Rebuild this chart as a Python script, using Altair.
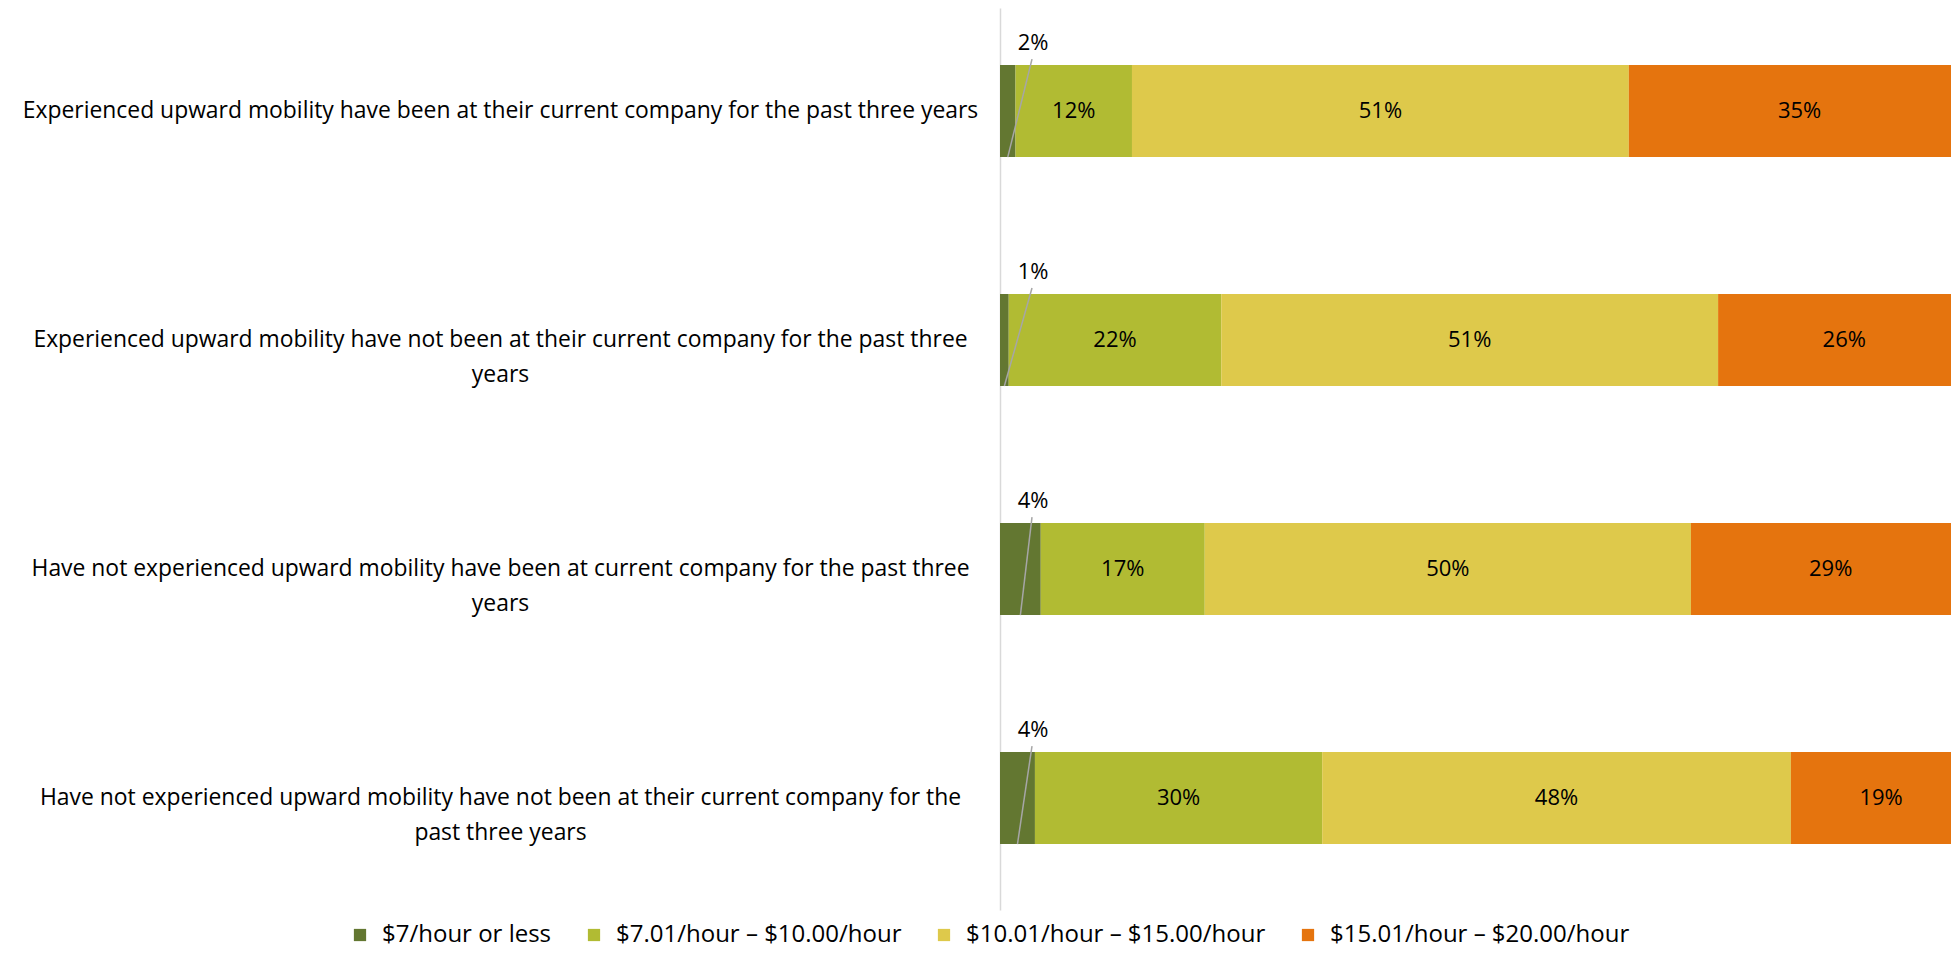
import altair as alt
import pandas as pd

categories = [
    "Experienced upward mobility have been at their current company for the past three years",
    "Experienced upward mobility have not been at their current company for the past three\nyears",
    "Have not experienced upward mobility have been at current company for the past three\nyears",
    "Have not experienced upward mobility have not been at their current company for the\npast three years",
]
brackets = [
    "$7/hour or less",
    "$7.01/hour – $10.00/hour",
    "$10.01/hour – $15.00/hour",
    "$15.01/hour – $20.00/hour",
]
colors = ["#637731", "#B1BB33", "#DEC94B", "#E5740E"]

v_7_or_less = [0.016, 0.009, 0.042, 0.036]
v_7_to_10 = [0.120, 0.219, 0.169, 0.296]
v_10_to_15 = [0.512, 0.512, 0.501, 0.483]
v_15_to_20 = [0.352, 0.260, 0.288, 0.186]

series = [v_7_or_less, v_7_to_10, v_10_to_15, v_15_to_20]
rows = []
for ci, cat in enumerate(categories):
    for bi, br in enumerate(brackets):
        rows.append({"category": cat, "bracket": br, "order": bi, "value": series[bi][ci]})
df = pd.DataFrame(rows)

FONT = "Open Sans"
FS = 22

base = alt.Chart(df).transform_stack(
    stack="value", groupby=["category"], as_=["start", "end"],
    sort=[alt.SortField("order", order="ascending")]
).transform_calculate(mid="(datum.start + datum.end) / 2")

yenc = alt.Y(
    "category:N", sort=categories,
    scale=alt.Scale(paddingInner=0.598, paddingOuter=0.2685, align=0.464),
    axis=alt.Axis(title=None, labelExpr="split(datum.label, '\\n')",
                  labelAlign="center", labelPadding=500, labelFontSize=22.9,
                  labelFont=FONT, labelColor="#000000", labelLineHeight=35,
                  ticks=False, domainColor="#D9D9D9", domainWidth=1.5,
                  labelLimit=0, grid=False),
)
xscale = alt.Scale(domain=[0, 0.980], nice=False, zero=True)

bars = base.mark_bar(clip=True).encode(
    y=yenc,
    x=alt.X("start:Q", scale=xscale, axis=None),
    x2="end:Q",
    color=alt.Color("bracket:N", sort=brackets,
                    scale=alt.Scale(domain=brackets, range=colors),
                    legend=alt.Legend(title=None, orient="none", legendX=-652, legendY=915,
                                      direction="horizontal", columns=4,
                                      symbolType="square", symbolSize=150,
                                      symbolStrokeWidth=0, labelFontSize=24,
                                      labelFont=FONT, labelColor="#000000",
                                      columnPadding=30, labelOffset=10, padding=0,
                                      labelLimit=0)),
)

inner = base.transform_filter("datum.order > 0").mark_text(
    font=FONT, fontSize=FS, color="#000000"
).encode(
    y=alt.Y("category:N", sort=categories),
    x=alt.X("mid:Q", scale=xscale),
    text=alt.Text("value:Q", format=".0%"),
)

small = base.transform_filter("datum.order == 0").mark_text(
    font=FONT, fontSize=FS, color="#000000", dx=33, dy=-68
).encode(
    y=alt.Y("category:N", sort=categories),
    x=alt.X("start:Q", scale=xscale),
    text=alt.Text("value:Q", format=".0%"),
)

leader = base.transform_filter("datum.order == 0").mark_rule(
    color="#A6A6A6", strokeWidth=1.5, yOffset=46, y2Offset=-52, x2Offset=32
).encode(
    y=alt.Y("category:N", sort=categories),
    y2=alt.Y2("category"),
    x=alt.X("mid:Q", scale=xscale),
    x2=alt.X2("start:Q"),
)

chart = alt.layer(bars, inner, leader, small).properties(
    width=951, height=902,
    autosize=alt.AutoSizeParams(type="none"),
    padding={"left": 992, "top": 0, "right": 0, "bottom": 45},
).configure_view(stroke=None).configure_axis(domainColor="#D9D9D9")

chart.save("out.html", embed_options={"renderer": "svg", "actions": False})
